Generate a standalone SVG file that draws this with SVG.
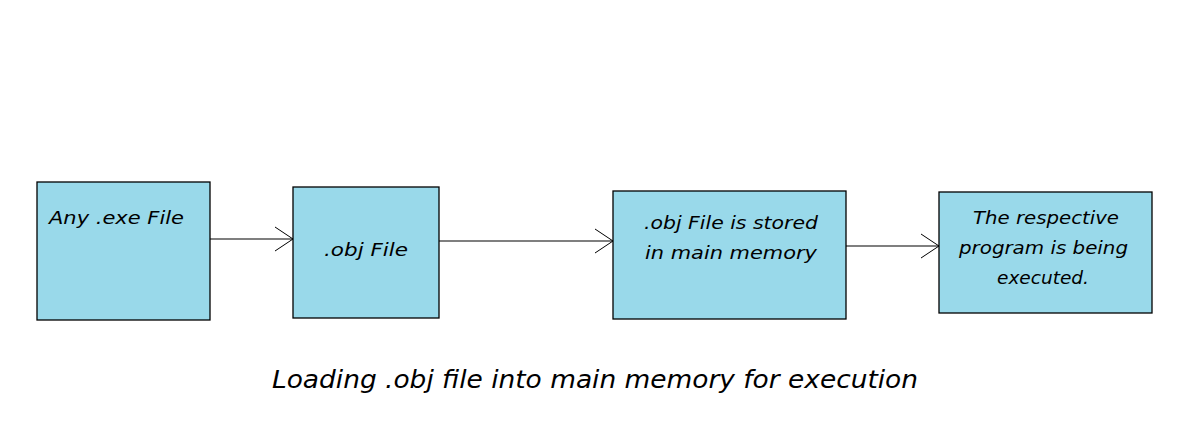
<svg xmlns="http://www.w3.org/2000/svg" width="1192" height="421" viewBox="0 0 1192 421">
<style>
.box{fill:#99D9EA;stroke:#000;stroke-width:1.3}
.t{font-family:"DejaVu Sans","Liberation Sans",sans-serif;font-style:italic;font-size:18px;fill:#000}
.cap{font-family:"DejaVu Sans","Liberation Sans",sans-serif;font-style:italic;font-size:24px;fill:#000}
.ln{stroke:#000;stroke-width:1.2;fill:none}
</style>
<defs>
<marker id="arr" markerWidth="20" markerHeight="26" refX="19" refY="13" orient="auto" markerUnits="userSpaceOnUse">
<path d="M1,1 L19,13 L1,25" fill="none" stroke="#000" stroke-width="1"/>
</marker>
</defs>
<rect width="1192" height="421" fill="#fff"/>
<g id="connectors">
<line class="ln" x1="210" y1="239" x2="293" y2="239" marker-end="url(#arr)"/>
<line class="ln" x1="439" y1="241" x2="613" y2="241" marker-end="url(#arr)"/>
<line class="ln" x1="846" y1="246" x2="939" y2="246" marker-end="url(#arr)"/>
</g>
<g id="node1">
<rect class="box" x="37" y="182" width="173" height="138"/>
<text class="t" x="49" y="224" textLength="135" lengthAdjust="spacingAndGlyphs">Any .exe File</text>
</g>
<g id="node2">
<rect class="box" x="293" y="187" width="146" height="131"/>
<text class="t" x="324" y="256" textLength="84" lengthAdjust="spacingAndGlyphs">.obj File</text>
</g>
<g id="node3">
<rect class="box" x="613" y="191" width="233" height="128"/>
<text class="t" x="644" y="229" textLength="174" lengthAdjust="spacingAndGlyphs">.obj File is stored</text>
<text class="t" x="645" y="259" textLength="172" lengthAdjust="spacingAndGlyphs">in main memory</text>
</g>
<g id="node4">
<rect class="box" x="939" y="192" width="213" height="121"/>
<text class="t" x="973" y="224" textLength="146" lengthAdjust="spacingAndGlyphs">The respective</text>
<text class="t" x="959" y="254" textLength="169" lengthAdjust="spacingAndGlyphs">program is being</text>
<text class="t" x="997" y="284" textLength="92" lengthAdjust="spacingAndGlyphs">executed.</text>
</g>
<text class="cap" x="272" y="388" textLength="646" lengthAdjust="spacingAndGlyphs">Loading .obj file into main memory for execution</text>
</svg>
